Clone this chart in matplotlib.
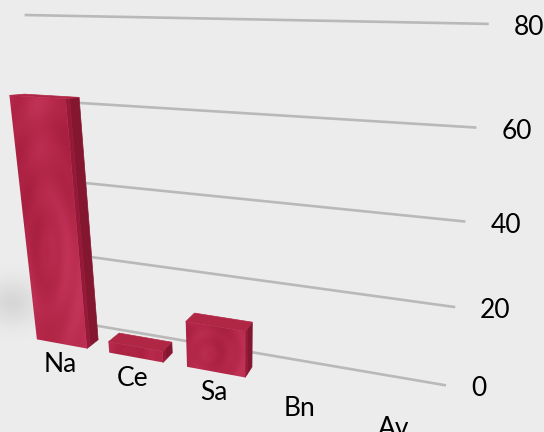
import numpy as np
import matplotlib
matplotlib.use("Agg")
import matplotlib.pyplot as plt
from matplotlib.patches import Polygon
from matplotlib.colors import LinearSegmentedColormap

categories = ["Na", "Ce", "Sa", "Bn", "Av"]
values = [62, 3, 12, 0, 0]
ticks = [0, 20, 40, 60, 80]

# camera calibration: (category pos, value, depth) -> canvas pixel
calib = [
    ((0, 80, 0), (23, 15)), ((5, 80, 0), (489, 25)), ((5, 60, 0), (476.5, 128)),
    ((5, 40, 0), (466, 221)), ((5, 20, 0), (455, 306.5)), ((5, 0, 0), (446, 386)),
    ((0, 0, 0), (57, 319)),
    ((.15, 0, 1), (37, 342)), ((.85, 0, 1), (84, 350)),
    ((1.15, 0, 1), (110, 355)), ((1.85, 0, 1), (162, 364)),
    ((2.15, 0, 1), (188, 370)), ((2.85, 0, 1), (245, 379)),
    ((.85, 0, .58), (95, 340)), ((1.85, 0, .58), (170, 352)), ((2.85, 0, .58), (251, 370)),
    ((.15, 62, 1), (13, 97)), ((.85, 62, 1), (68, 98)), ((.85, 62, .58), (79, 96)),
    ((.15, 62, .58), (25, 93)),
    ((2.15, 12, 1), (187, 322)), ((2.85, 12, 1), (245, 328)),
    ((2.85, 12, .58), (251, 318)), ((2.15, 12, .58), (195, 311)),
    ((1.15, 3, 1), (109, 341)), ((1.85, 3, 1), (163, 348)),
    ((1.85, 3, .58), (170, 339)), ((1.15, 3, .58), (119, 331)),
]
A = []
for (c, v, d), (u, w) in calib:
    X = [c, v / 16, d, 1]
    u, w = u / 500, w / 500
    k_w = 2.0 if d == 0 else 1.0
    A.append([k_w * a for a in X + [0, 0, 0, 0] + [-u * k for k in X]])
    A.append([k_w * a for a in [0, 0, 0, 0] + X + [-w * k for k in X]])
P = np.linalg.svd(np.array(A))[2][-1].reshape(3, 4)


def project(c, v, d):
    h = P @ np.array([c, v / 16, d, 1.0])
    return h[0] / h[2] * 500, h[1] / h[2] * 500


plt.rcParams["font.family"] = "Lato"
fig = plt.figure(figsize=(5.44, 4.32), dpi=100, facecolor="#ECECEC")
ax = fig.add_axes([0, 0, 1, 1])
ax.set_xlim(0, 544)
ax.set_ylim(432, 0)
ax.axis("off")

# soft shadow on the floor behind the tall bar
yy, xx = np.mgrid[250:360, 0:110]
sh = np.exp(-(((xx - 12) / 26.0) ** 2 + ((yy - 302) / 22.0) ** 2)) * 0.09
rgba = np.zeros(sh.shape + (4,))
rgba[..., 3] = sh
ax.imshow(rgba, extent=(0, 110, 360, 250), zorder=1, aspect="auto")

for t in ticks:
    p0, p1 = project(0, t, 0), project(5, t, 0)
    ax.plot([p0[0], p1[0]], [p0[1], p1[1]], color="#B9B9B9", lw=1.9,
            solid_capstyle="butt", zorder=2)
    ax.text(p1[0] + 25, p1[1] + 3.5, str(t), fontsize=19, ha="left",
            va="center", color="black", zorder=6)

wood = LinearSegmentedColormap.from_list("wood", ["#A81F3F", "#B5284A", "#C4345A"])
yy, xx = np.mgrid[0:432, 0:544]

hw = 0.35
back = 0.58
mid = 0.88
for i, (name, val) in enumerate(zip(categories, values)):
    if val <= 0:
        continue
    cl, cr = i + 0.5 - hw, i + 0.5 + hw
    front = [project(cl, 0, 1), project(cr, 0, 1), project(cr, val, 1), project(cl, val, 1)]
    bevel = [project(cr, 0, 1), project(cr, 0, mid), project(cr, val, mid), project(cr, val, 1)]
    side = [project(cr, 0, mid), project(cr, 0, back), project(cr, val, back), project(cr, val, mid)]
    top = [project(cl, val, 1), project(cr, val, 1), project(cr, val, back), project(cl, val, back)]
    ax.add_patch(Polygon(side, closed=True, fc="#85162F", ec="#85162F", lw=.5, zorder=3))
    ax.add_patch(Polygon(bevel, closed=True, fc="#96193A", ec="#96193A", lw=.5, zorder=3))
    ax.add_patch(Polygon(top, closed=True, fc="#B02746", ec="#B02746", lw=.5, zorder=3))
    fp = Polygon(front, closed=True, fc="none", ec="none", zorder=4)
    ax.add_patch(fp)
    cx, cy = project(i + 0.42, val * 0.4, 1)
    r = np.hypot(xx - cx, (yy - cy) / max(1.0, val / 22.0))
    grain = (np.sin(xx / 9.0 + 2.2 * np.sin(yy / 70.0) + 1.5 * np.sin(xx / 31.0))
             + 0.5 * np.sin(r / 2.6) + 0.8 * np.sin((xx + yy) / 47.0))
    im = ax.imshow(grain, cmap=wood, extent=(0, 544, 432, 0), zorder=4, aspect="auto",
                   vmin=-2.3, vmax=2.3, interpolation="bilinear")
    im.set_clip_path(fp)

label_xy = [(60, 365), (133, 378), (214, 392), (299, 408), (394, 428)]
for name, (x, y) in zip(categories, label_xy):
    ax.text(x, y, name, fontsize=19, ha="center", va="center", color="black",
            zorder=6, clip_on=True)

ax.set_xlim(0, 544)
ax.set_ylim(432, 0)
fig.savefig("out.png", dpi=100, facecolor=fig.get_facecolor())
